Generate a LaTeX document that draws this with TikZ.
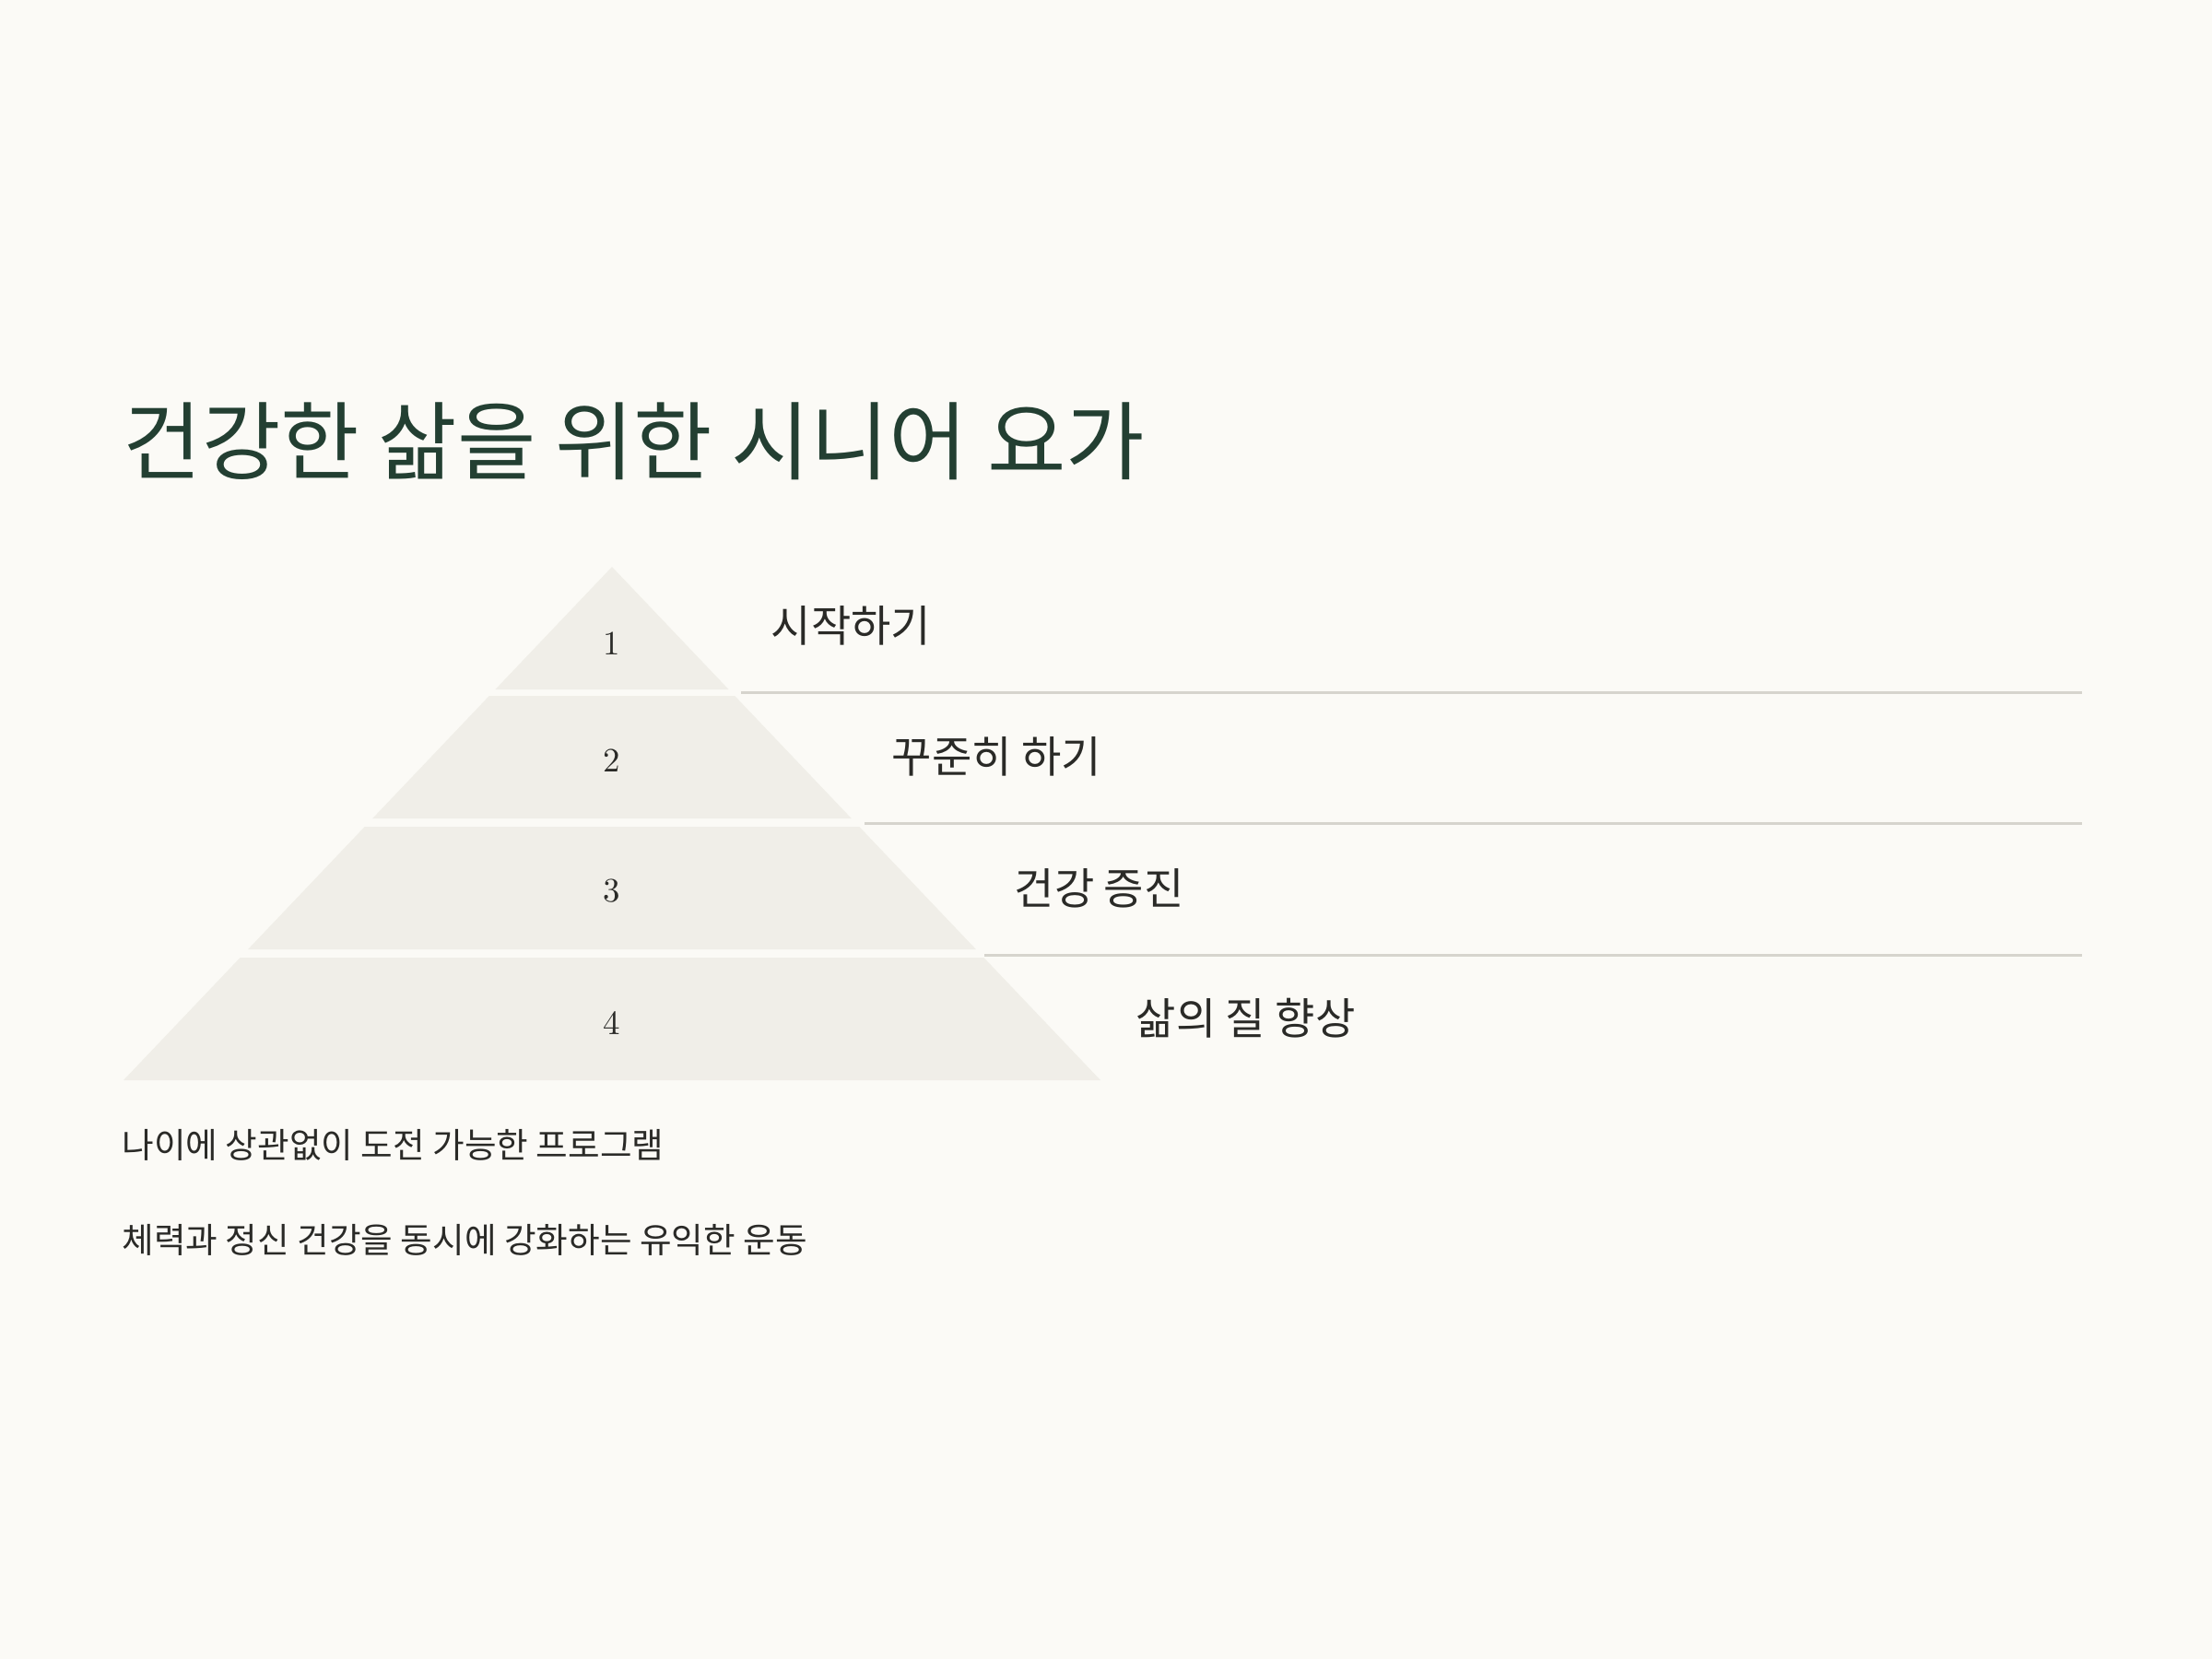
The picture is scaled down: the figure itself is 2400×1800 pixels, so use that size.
\documentclass[tikz,border=0pt]{standalone}
\usepackage{fontspec}
\newfontfamily\kr{Noto Sans CJK KR}
\usetikzlibrary{positioning}
\definecolor{paper}{HTML}{FBFAF6}
\definecolor{pyrfill}{HTML}{F0EEE8}
\definecolor{titlegreen}{HTML}{233F32}
\definecolor{ink}{HTML}{2A2A27}
\definecolor{sepgray}{HTML}{D6D4CD}
\tikzset{
  layer/.style={fill=pyrfill},
  num/.style={font=\fontsize{10.5}{12}\selectfont, text=ink},
  steplabel/.style={anchor=base west, inner sep=0pt, font=\kr\fontsize{13.4}{16}\selectfont, text=ink},
  note/.style={anchor=base west, inner sep=0pt, font=\kr\fontsize{10.7}{13}\selectfont, text=ink},
  sep/.style={draw=sepgray, line width=0.85pt}
}

\begin{document}
\begin{tikzpicture}[x=0.01cm, y=-0.01cm]
 \fill[paper] (0,0) rectangle (2400,1800);

 \node[anchor=base west, inner sep=0pt, font=\kr\fontsize{26.4}{32}\selectfont, text=titlegreen] (title) at (133,513) {건강한 삶을 위한 시니어 요가};

 % pyramid, top to bottom
 \foreach \t/\b in {615/748, 755/888, 897/1030, 1039/1172}
   \fill[layer] ({664-0.9515*(\t-615)},\t) -- ({664+0.9515*(\t-615)},\t)
     -- ({664+0.9515*(\b-615)},\b) -- ({664-0.9515*(\b-615)},\b) -- cycle;

 \node[num] (n1) at (664,698)  {1};
 \node[num] (n2) at (664,825)  {2};
 \node[num] (n3) at (664,967)  {3};
 \node[num] (n4) at (664,1110) {4};

 \node[steplabel] (s1) at (836,696)   {시작하기};
 \node[steplabel] (s2) at (967,838)   {꾸준히 하기};
 \node[steplabel] (s3) at (1100,981)  {건강 증진};
 \node[steplabel] (s4) at (1232,1122) {삶의 질 향상};

 \foreach \y/\x in {751/804, 893/938, 1036/1068}
   \draw[sep] (\x,\y) -- (2259,\y);

 \node[note] (d1) at (132,1256) {나이에 상관없이 도전 가능한 프로그램};
 \node[note] (d2) at (132,1359) {체력과 정신 건강을 동시에 강화하는 유익한 운동};
\end{tikzpicture}
\end{document}
